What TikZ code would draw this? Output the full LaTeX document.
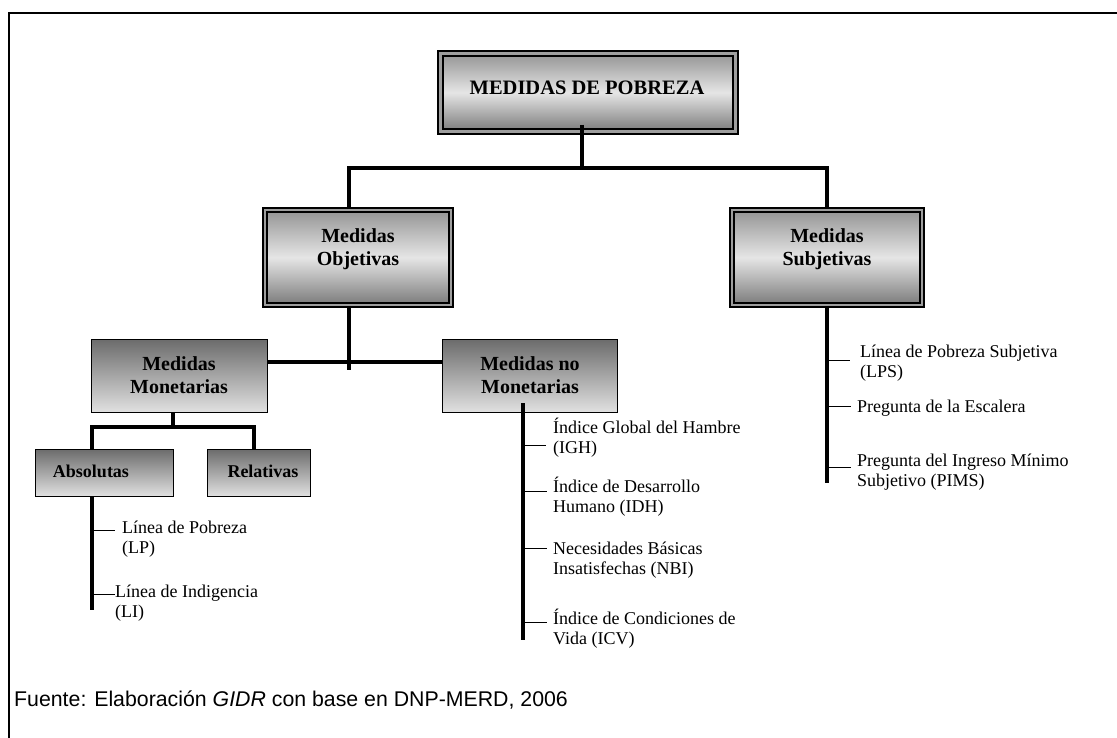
\documentclass[tikz,border=0pt]{standalone}
\usepackage{fontspec}
\setmainfont{Liberation Serif}
\newfontfamily\capfont{Liberation Sans}
\newcommand{\twoln}[2]{\begin{tabular}[t]{@{}l@{}}#1\\#2\end{tabular}}
\definecolor{gtop}{gray}{0.58}
\definecolor{gmid}{gray}{0.9}
\definecolor{gbot}{gray}{0.48}
\definecolor{gdark}{gray}{0.42}
\definecolor{glight}{gray}{0.88}
\definecolor{ggap}{gray}{0.62}
\tikzset{
  frame/.style={draw=black, line width=1.4pt},
  titlebox/.style={rectangle, draw=black, line width=2.2pt, double=ggap, double distance=2.5pt,
    top color=gtop, bottom color=gbot, middle color=gmid, inner sep=0pt},
  dblbox/.style={rectangle, draw=black, line width=1.7pt, double=ggap, double distance=2.2pt,
    top color=gtop, bottom color=gbot, middle color=gmid, inner sep=0pt},
  sglbox/.style={rectangle, draw=black, line width=1pt, top color=gdark, bottom color=glight, inner sep=0pt},
  titletext/.style={font=\bfseries\fontsize{20.5}{23}\selectfont, inner sep=0pt},
  boxtext/.style={font=\bfseries\fontsize{20}{22.5}\selectfont, align=center, inner sep=0pt},
  smalltext/.style={font=\bfseries\fontsize{18}{20.5}\selectfont, inner sep=0pt},
  listtext/.style={font=\fontsize{18}{20.5}\selectfont, anchor=base west, inner sep=0pt},
  capt/.style={font=\capfont\fontsize{21.3}{25}\selectfont, anchor=base west, inner sep=0pt},
  conn/.style={line width=4.5pt, line join=miter},
  sub/.style={line width=4pt, line join=miter},
  tick/.style={line width=1pt}
}
\begin{document}
\begin{tikzpicture}[x=1pt,y=-1pt]
\useasboundingbox (0,0) rectangle (1117,738);
\clip (0,0) rectangle (1117,738);
\draw[frame] (9,13) rectangle (1140,760);

% boxes
\node[titlebox, minimum width=295pt, minimum height=78pt] (top) at (588,92.5) {};
\node[titletext] (toptxt) at (587,88) {MEDIDAS DE POBREZA};

\node[dblbox, minimum width=186pt, minimum height=95pt] (obj) at (358,257.5) {};
\node[boxtext] (objtxt) at (358,249) {Medidas\\Objetivas};

\node[dblbox, minimum width=190pt, minimum height=95pt] (subj) at (827,257.5) {};
\node[boxtext] (subjtxt) at (827,249) {Medidas\\Subjetivas};

\node[sglbox, minimum width=176pt, minimum height=73pt] (mon) at (179,375.5) {};
\node[boxtext] (montxt) at (179,375) {Medidas\\Monetarias};

\node[sglbox, minimum width=175pt, minimum height=73pt] (nomon) at (529.5,375.5) {};
\node[boxtext] (nomontxt) at (530,375) {Medidas no\\Monetarias};

\node[sglbox, minimum width=138pt, minimum height=47pt] (abs) at (104,472.5) {};
\node[smalltext] (abstxt) at (91,471) {Absolutas};

\node[sglbox, minimum width=103pt, minimum height=47pt] (rel) at (258.5,472.5) {};
\node[smalltext] (reltxt) at (263,471) {Relativas};

% junction coordinates
\coordinate (j1) at (582,168);
\coordinate (jl) at (349,168);
\coordinate (jr) at (827,168);
\coordinate (ko) at (349,370);
\coordinate (hy) at (0,362);
\coordinate (mj) at (173,427);
\coordinate (al) at (92,427);
\coordinate (ar) at (254,427);
\coordinate (aend) at (92,610);
\coordinate (ntop) at (523,403);
\coordinate (nend) at (523,640);
\coordinate (send) at (827,483);
\coordinate (stemtop) at (582,125);

% main connectors
\draw[conn] (stemtop) -- (j1);
\draw[conn] (obj.north -| jl) -- (jl) -- (jr) -- (subj.north -| jr);
\draw[sub] (obj.south -| ko) -- (ko);
\draw[sub] (mon.east |- hy) -- (nomon.west |- hy);
\draw[sub] (mon.south -| mj) -- (mj);
\draw[sub] (abs.north -| al) -- (al) -- (ar) -- (rel.north -| ar);
\draw[sub] (abs.south -| aend) -- (aend);
\draw[sub] (ntop) -- (nend);
\draw[sub] (subj.south) -- (send);

% list texts
\node[listtext] (lp) at (122,533) {\twoln{Línea de Pobreza}{(LP)}};
\node[listtext] (li) at (115,597) {\twoln{Línea de Indigencia}{(LI)}};
\node[listtext] (igh) at (553,433) {\twoln{Índice Global del Hambre}{(IGH)}};
\node[listtext] (idh) at (553,492) {\twoln{Índice de Desarrollo}{Humano (IDH)}};
\node[listtext] (nbi) at (553,554) {\twoln{Necesidades Básicas}{Insatisfechas (NBI)}};
\node[listtext] (icv) at (553,624) {\twoln{Índice de Condiciones de}{Vida (ICV)}};
\node[listtext] (lps) at (860,357) {\twoln{Línea de Pobreza Subjetiva}{(LPS)}};
\node[listtext] (esc) at (857,412) {Pregunta de la Escalera};
\node[listtext] (pims) at (857,466) {\twoln{Pregunta del Ingreso Mínimo}{Subjetivo (PIMS)}};

% ticks
\coordinate (t1a) at (92,530);  \coordinate (t1b) at (115,530);
\coordinate (t2a) at (92,594);  \coordinate (t2b) at (115,594);
\coordinate (t3a) at (523,445); \coordinate (t3b) at (546,445);
\coordinate (t4a) at (523,491); \coordinate (t4b) at (547,491);
\coordinate (t5a) at (523,548); \coordinate (t5b) at (547,548);
\coordinate (t6a) at (523,622); \coordinate (t6b) at (547,622);
\coordinate (t7a) at (827,360); \coordinate (t7b) at (850,360);
\coordinate (t8a) at (827,406); \coordinate (t8b) at (851,406);
\coordinate (t9a) at (827,467); \coordinate (t9b) at (851,467);
\foreach \t in {1,...,9} {\draw[tick] (t\t a) -- (t\t b);}

% caption
\node[capt] (cap) at (14,706) {Fuente: Elaboración \textit{GIDR} con base en DNP-MERD, 2006};
\end{tikzpicture}
\end{document}
